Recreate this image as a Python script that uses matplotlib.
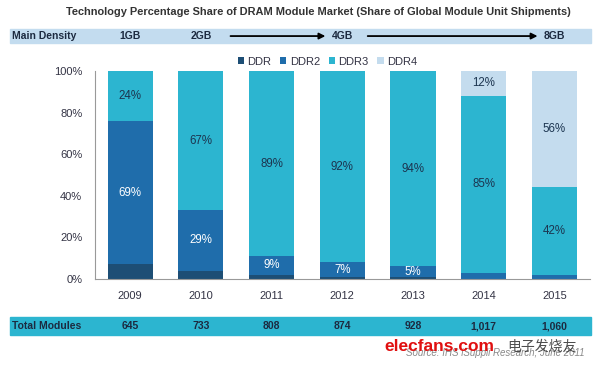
import numpy as np
import matplotlib.pyplot as plt
from matplotlib.patches import Rectangle, FancyArrowPatch

# -----------------------------
# data (percent share)
# -----------------------------
years = ["2009", "2010", "2011", "2012", "2013", "2014", "2015"]
ddr = [7, 4, 2, 1, 1, 0, 0]
ddr2 = [69, 29, 9, 7, 5, 3, 2]
ddr3 = [24, 67, 89, 92, 94, 85, 42]
ddr4 = [0, 0, 0, 0, 0, 12, 56]

ddr2_labels = ["69%", "29%", "9%", "7%", "5%", "", ""]
ddr3_labels = ["24%", "67%", "89%", "92%", "94%", "85%", "42%"]
ddr4_labels = ["", "", "", "", "", "12%", "56%"]

density = ["1GB", "2GB", "", "4GB", "", "", "8GB"]
total_modules = ["645", "733", "808", "874", "928", "1,017", "1,060"]

c_ddr = "#1d4e75"
c_ddr2 = "#1f6dab"
c_ddr3 = "#2cb5d0"
c_ddr4 = "#c4dcee"
c_txt = "#333344"

plt.rcParams['font.family'] = ['Liberation Sans', 'DejaVu Sans']

fig = plt.figure(figsize=(6, 3.68), dpi=100)
ax = fig.add_axes([0.158, 0.242, 0.825, 0.565])

x = np.arange(len(years))
w = 0.64
b0 = np.zeros(len(years))
ax.bar(x, ddr, w, color=c_ddr, label="DDR")
b1 = b0 + ddr
ax.bar(x, ddr2, w, bottom=b1, color=c_ddr2, label="DDR2")
b2 = b1 + ddr2
ax.bar(x, ddr3, w, bottom=b2, color=c_ddr3, label="DDR3")
b3 = b2 + ddr3
ax.bar(x, ddr4, w, bottom=b3, color=c_ddr4, label="DDR4")

for i in range(len(years)):
    if ddr2_labels[i]:
        ax.text(x[i], b1[i] + ddr2[i] / 2, ddr2_labels[i], ha="center", va="center",
                color="white", fontsize=8.3)
    ax.text(x[i], b2[i] + ddr3[i] / 2, ddr3_labels[i], ha="center", va="center",
            color="#1c3550", fontsize=8.3)
    if ddr4_labels[i]:
        ax.text(x[i], b3[i] + ddr4[i] / 2, ddr4_labels[i], ha="center", va="center",
                color="#1c3550", fontsize=8.3)

ax.set_xlim(-0.5, 6.5)
ax.set_ylim(0, 100)
ax.set_yticks([0, 20, 40, 60, 80, 100])
ax.set_yticklabels(["0%", "20%", "40%", "60%", "80%", "100%"])
ax.set_xticks(x)
ax.set_xticklabels(years)
ax.tick_params(length=0, labelsize=8, labelcolor=c_txt, pad=9)
ax.tick_params(axis="x", pad=9)
for s in ["top", "right"]:
    ax.spines[s].set_visible(False)
for s in ["left", "bottom"]:
    ax.spines[s].set_color("#999999")
    ax.spines[s].set_linewidth(0.8)

leg = ax.legend(loc="lower center", bbox_to_anchor=(0.47, 0.995), ncol=4, frameon=False,
                fontsize=8, handlelength=0.55, handleheight=0.55, handletextpad=0.3,
                columnspacing=0.8, borderpad=0)
for t in leg.get_texts():
    t.set_color(c_txt)

# -----------------------------
# title and table rows
# -----------------------------
fig.text(0.53, 0.967, "Technology Percentage Share of DRAM Module Market (Share of Global Module Unit Shipments)",
         ha="center", va="center", fontsize=7.9, fontweight="bold", color="#333333")

def fx(v):
    return fig.transFigure.inverted().transform(ax.transData.transform((v, 0)))[0]

# main density band
fig.patches.append(Rectangle((0.017, 0.883), 0.968, 0.039, transform=fig.transFigure,
                             color="#c3dcef", zorder=0))
ytop = 0.902
fig.text(0.02, ytop, "Main Density", ha="left", va="center", fontsize=7.5,
         fontweight="bold", color="#1c2a40")
for i, d in enumerate(density):
    if d:
        fig.text(fx(x[i]), ytop, d, ha="center", va="center", fontsize=7.5,
                 fontweight="bold", color="#1c2a40")

for a, b in [(1.38, 2.8), (3.32, 5.8)]:
    fig.patches.append(FancyArrowPatch((fx(a), ytop), (fx(b), ytop), transform=fig.transFigure,
                                       arrowstyle="-|>", mutation_scale=9, lw=1.3, color="black"))

# total modules band
fig.patches.append(Rectangle((0.017, 0.09), 0.968, 0.048, transform=fig.transFigure,
                             color=c_ddr3, zorder=0))
fig.text(0.02, 0.114, "Total Modules", ha="left", va="center", fontsize=7.5,
         fontweight="bold", color="#1c2a40")
for i, t in enumerate(total_modules):
    fig.text(fx(x[i]), 0.114, t, ha="center", va="center", fontsize=7.5,
             fontweight="bold", color="#1c2a40")

fig.text(0.975, 0.04, "Source: IHS iSuppli Research, June 2011", ha="right", va="center",
         fontsize=7, style="italic", color="#888888")
fig.text(0.64, 0.058, "elecfans.com", ha="left", va="center", fontsize=12.5,
         fontweight="bold", color="#e01010")
fig.text(0.845, 0.058, "电子发烧友", ha="left", va="center", fontsize=10,
         family=["Noto Sans CJK SC", "DejaVu Sans"], color="#222222", alpha=0.8)

plt.savefig("out.png", dpi=100)
